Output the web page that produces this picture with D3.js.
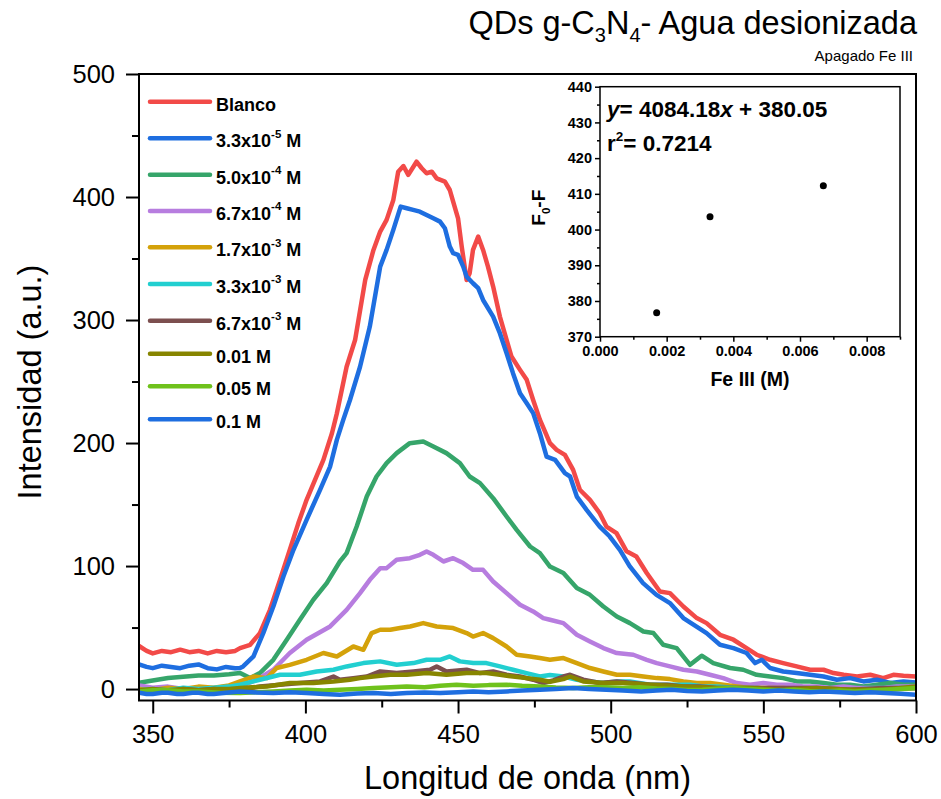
<!DOCTYPE html>
<html>
<head>
<meta charset="utf-8">
<script src="https://cdn.jsdelivr.net/npm/d3@7"></script>
<style>
  body { margin: 0; background: #fff; }
  svg { display: block; }
  text { font-family: "Liberation Sans", Arial, sans-serif; fill: #000; }
</style>
</head>
<body>
<svg id="chart" width="941" height="799"></svg>
<script>
// Emission spectra, [wavelength nm, intensity a.u.]
const blanco = [[345.5,35],[348,31],[350,29],[353,31],[356,30],[359,32],[362,30],[365,31],[368,29],[371,31],[374,30],[377,31],[378.6,33.3],[381.9,36],[385.1,45.5],[388.4,64.4],[391.7,88.8],[394.9,113.2],[397.7,134.9],[400.4,153.8],[405.9,186.3],[408.7,208],[410.3,224],[413.5,262],[416.3,284],[419.6,332.6],[422.3,357],[424.5,371.9],[426.6,381.4],[428.8,397.6],[430.4,420.6],[432.1,425.2],[433.7,418],[436.4,428.7],[438.1,423.4],[439.7,419.3],[441.4,420.6],[443,415.2],[445.7,412.5],[447.3,405.7],[448.4,396.2],[450,382.7],[451.2,359.7],[452.8,332.6],[453.8,338],[454.9,357],[456.6,367.8],[458.2,357],[459.8,343.4],[461.5,327.2],[463.7,302.8],[465.9,283.8],[467.5,270.3],[470.3,259.5],[472.5,251.4],[474.6,235],[476.8,219],[480.1,199.9],[482.3,194.5],[485,190.4],[487.7,178.2],[489.9,162],[493.2,153.8],[496.4,143],[498.6,132.1],[501.9,126.8],[505.2,112],[508.4,107.8],[511.8,94.3],[516.1,79.3],[519.4,78],[523.8,67.1],[528.2,57.7],[531.4,53.6],[535.8,44.1],[540.2,40.1],[544.5,33.3],[547.8,27.9],[552.2,23.8],[556.5,21.1],[560.9,18.4],[565.3,15.7],[569.7,15.7],[573,13],[576.3,11.6],[580.7,10.2],[585,11.6],[589.3,8.9],[592.6,11.6],[595.9,10.8],[600,10.2]];

const fe_3_3e5 = [[345.5,20],[348,18],[350,17],[353,19],[356,18],[359,17],[362,19],[365,20],[368,17],[371,16],[374,18],[377,17],[378.6,17.1],[379.6,18.4],[383,26.5],[386.2,45.5],[389.5,67.1],[392.8,91.5],[396.1,113.2],[400.4,137.6],[404.8,161.9],[408.1,180.9],[410.3,202.6],[412.4,218.8],[414.6,235],[417.9,262],[421.1,294.7],[424.5,343.4],[426.6,357],[428.8,373.3],[431.2,392.2],[433.2,390.9],[435.3,389.5],[437.5,388.1],[439.7,385.4],[441.9,382.7],[444.1,380],[445.7,374.6],[447.3,359.7],[448.4,354.3],[450,352.9],[451.7,343.4],[452.8,335.3],[454.9,329.9],[456.6,325.9],[458.2,316.3],[461.5,302.8],[463.7,289.3],[465.9,273],[468,256.8],[470.3,240.5],[472.5,232.4],[474.6,224.3],[476.8,208],[479,189],[481.8,186.3],[485,175.5],[486.7,172.8],[488.9,156.5],[492.1,145.7],[496.4,132.1],[499.7,124],[503,113.2],[506.2,100],[510.6,86.1],[515,76.6],[519.4,69.9],[523.8,57.7],[527.1,52.3],[531.4,45.5],[535.8,36],[540.2,33.3],[544.5,29.3],[547.3,21.1],[549.5,23.8],[552.2,17.1],[556.5,14.3],[560.9,13],[565.3,11.6],[569.7,10.2],[574.1,7.6],[578.4,8.9],[582.8,6.2],[587.2,7.6],[591.6,4.9],[595.9,6.2],[600,5.4]];

const fe_5_0e4 = [[345.5,5],[350,7],[355,9],[360,10],[365,11],[370,11],[375,12],[378.6,13],[381.9,8.9],[385.1,13],[389.5,23.8],[393.9,40.1],[398.2,56.3],[402.6,72.6],[407,86.1],[411.3,103.7],[413.5,110.5],[416.8,132.1],[420.1,156.5],[423.3,172.8],[426.6,183.7],[429.9,191.8],[434.2,199.9],[438.6,201.2],[441.9,197.1],[446.2,191.8],[450.6,183.7],[453.8,172.8],[457.2,167.4],[461.5,155.2],[465.9,140.3],[469.2,129.4],[473.6,115.9],[476.8,110.5],[480.1,99.6],[484.5,94.3],[488.9,82.1],[493.2,76.6],[497.6,67.1],[502,59],[506.3,53.6],[510.7,46.8],[514,45.5],[517.2,36],[521.6,33.3],[526,19.7],[529.8,27.1],[533.6,21.1],[539.1,17.1],[543.4,15.7],[547.8,11.6],[552.2,10.2],[556.5,8.9],[560.9,6.2],[565.3,6.2],[569.7,4.9],[574.1,3.5],[578.4,3.5],[582.8,2.1],[587.2,3.5],[591.6,4.9],[595.9,3.5],[600,3.5]];

const fe_6_7e4 = [[345.5,3],[350,1],[355,2],[360,0],[365,1],[370,0],[375,1],[378.6,2.1],[384.1,7.6],[389.5,15.7],[394.9,29.3],[400.4,40.1],[408.1,50.9],[413.5,64.4],[417.9,78],[421.1,88.8],[424.5,98.3],[426.6,98.3],[429.9,105.1],[434.2,106.4],[437.5,109.1],[439.7,111.8],[441.9,109.1],[445.2,103.7],[448.4,106.4],[451.7,102.4],[454.9,96.9],[458.2,96.9],[461.5,87.4],[465.9,78],[470.3,68.5],[474.6,63.1],[477.9,57.7],[480.1,56.3],[484.5,53.6],[488.9,44.1],[493.2,38.7],[497.6,33.3],[502,29.3],[507.4,27.9],[511.8,23.8],[515.1,21.1],[519.4,18.4],[523.8,15.7],[528.2,14.3],[532.5,11.6],[536.9,8.9],[541.3,4.9],[545.6,3.5],[550,4.9],[554.4,3.5],[558.7,3.5],[563.1,2.1],[567.5,2.1],[571.8,0.8],[576.2,2.1],[580.6,0.8],[585,0.8],[589.3,0.8],[593.7,2.1],[600,2.1]];

const fe_1_7e3 = [[345.5,0],[350,-1],[355,1],[360,0],[365,2],[370,1],[375,3],[378.6,6.2],[383,10.2],[387.4,8.9],[390.6,17.1],[394.9,19.7],[400.4,23.8],[405.9,29.3],[410.3,26.5],[415.7,34.6],[419,31.9],[421.7,45.5],[424.5,48.2],[427.8,48.2],[431,49.6],[434.3,50.9],[438.6,53.6],[443,50.9],[448.4,49.6],[452.8,45.5],[454.9,42.7],[458.2,45.5],[461.5,41.4],[465.9,34.6],[469.2,27.9],[473.6,26.5],[476.8,25.2],[480.1,23.8],[484.5,25.2],[488.9,21.1],[493.2,17.1],[497.6,14.3],[502,11.6],[506.3,11.6],[510.7,10.2],[515.1,8.9],[519.4,8.1],[523.8,6.2],[528.2,4.9],[532.5,4.9],[536.9,3.5],[541.3,2.1],[545.6,0.8],[550,0.8],[556.5,0.8],[563.1,-0.6],[569.7,-0.6],[576.2,-0.6],[582.8,-0.6],[589.3,-0.6],[600,0.8]];

const fe_3_3e3 = [[345.5,-1],[350,0],[355,-1],[360,1],[365,0],[370,1],[375,2],[378.6,3.5],[385.1,7.6],[391.7,11.6],[398.2,11.6],[403.7,14.3],[409.2,15.7],[413.5,18.4],[419,21.1],[424.5,22.5],[429.9,19.7],[435.4,21.1],[439.7,23.8],[444.1,23.8],[447.3,26.5],[450.6,22.5],[455,21.1],[459.3,21.1],[463.7,18.4],[468,15.7],[472.4,13],[476.8,10.2],[480.1,11.5],[484.5,10.2],[488.9,7.6],[493.2,6.2],[497.6,4.9],[502,6.2],[506.3,6.2],[512.9,3.5],[519.4,3.5],[526,3.5],[530.3,2.1],[534.7,2.1],[541.3,0.8],[547.8,0.8],[556.5,-0.6],[567.5,-0.6],[578.4,-0.6],[589.3,0.8],[600,0.8]];

const fe_6_7e3 = [[345.5,-2],[350,-1],[355,-2],[360,0],[365,-1],[370,0],[375,-1],[378.6,-0.6],[385.1,2.1],[391.7,3.5],[398.2,4.9],[404.8,6.2],[409.2,10.2],[411.3,7.6],[415.7,8.9],[420.1,10.2],[424.5,14.3],[429.9,13],[435.4,14.3],[440.8,15.7],[443,18.4],[446.2,14.3],[452.8,15.7],[457.2,13],[461.5,14.3],[465.9,11.6],[470.3,10.2],[474.6,7.6],[477.9,4.9],[481.2,7],[484.5,10.2],[486.7,11.6],[491,7.6],[496.5,4.9],[502,6.2],[507.4,4.9],[512.9,3.5],[518.4,3.5],[523.8,2.1],[529.3,2.1],[534.7,0.8],[545.6,0.8],[556.5,0.8],[567.5,0.8],[578.4,-0.6],[589.3,0.8],[600,0.8]];

const fe_0_01 = [[345.5,-1],[350,0],[355,-1],[360,0],[365,-1],[370,0],[375,0],[378.6,0.8],[387.4,2.1],[394.9,4.9],[402.6,4.9],[409.2,6.2],[414.6,7.6],[417.9,8.9],[422.3,10.2],[427.8,11.6],[433.2,11.6],[439.7,13],[446.2,11.6],[452.8,13],[459.3,13],[463.7,11.6],[468,10.2],[472.4,8.9],[476.8,7.6],[480.1,6],[484.5,8.1],[486.7,10.2],[491,6.2],[497.6,4.9],[504.1,4.9],[512.9,3.5],[523.8,2.1],[534.7,0.8],[545.6,0.8],[556.5,-0.6],[567.5,0.8],[578.4,-0.6],[589.3,-0.6],[600,2.1]];

const fe_0_05 = [[345.5,-2],[350,-1],[355,-1],[360,-2],[365,-2],[372,-3],[378.6,-3.3],[384,-2.5],[389.5,-1.9],[395,-1.2],[400.4,-0.6],[406,-1.2],[411.3,-0.6],[417,0],[422.3,0.8],[428,1.5],[433.2,2.1],[439,1.5],[444.1,2.6],[449.5,3.5],[455,2.6],[460,3.2],[465.9,3.5],[471,2.6],[476.8,2.1],[482,1.2],[487.7,0.8],[493,1.5],[498.6,1.5],[504,0.8],[509.5,1.5],[515,0.5],[520,0],[525,-0.8],[530,-0.6],[535,0.2],[540,0.8],[545,0],[550,-0.6],[555,-1.2],[560,-0.6],[565,-1.5],[570,-1.9],[575,-1.2],[580,-1.9],[585,-1.2],[590,-0.6],[595,0],[600,0.8]];

const fe_0_1 = [[345.5,-3],[348,-4],[350,-4],[353,-3],[355,-3],[358,-4],[360,-4],[363,-3],[365,-3],[368,-4],[370,-4],[374,-3],[378.6,-1.9],[384,-2.8],[389.5,-3.3],[395,-2.6],[400.4,-3.3],[406,-4],[411.3,-4.6],[417,-3.6],[422.3,-3.3],[428,-4],[433.2,-3.3],[439,-2.7],[444.1,-3.3],[450,-2.5],[455,-1.9],[460,-2.6],[465.9,-1.9],[471,-1.2],[476.8,-0.6],[482,0],[487.7,0.8],[493,0],[498.6,-0.6],[504,-1.2],[510,-1.9],[515,-1.2],[520,-0.6],[525,-1.5],[530,-1.9],[535,-1.2],[540,-0.6],[545,-1.2],[550,-1.9],[555,-1.2],[560,-1.9],[565,-2.6],[570,-1.9],[575,-2.6],[580,-3.3],[585,-2.6],[590,-3.3],[595,-3.8],[600,-4.6]];

const spectra = [blanco, fe_3_3e5, fe_5_0e4, fe_6_7e4, fe_1_7e3, fe_3_3e3, fe_6_7e3, fe_0_01, fe_0_05, fe_0_1];
const seriesColors = ["#f24a48", "#1e6ee0", "#36a56a", "#b77ddf", "#d4a20a", "#22cfd0", "#7c4f4f", "#878500", "#6fc21c", "#1e6ee0"];
const legendMain = ["Blanco", "3.3x10", "5.0x10", "6.7x10", "1.7x10", "3.3x10", "6.7x10", "0.01 M", "0.05 M", "0.1 M"];
const legendExp = ["", "-5", "-4", "-4", "-3", "-3", "-3", "", "", ""];
const legendRows = [101.7, 138.3, 174.7, 211, 247.3, 284, 320.7, 353.7, 386.3, 419.3];

const yMajorTicks = [0, 100, 200, 300, 400, 500];
const yMinorTicks = [50, 150, 250, 350, 450];
const xMajorTicks = [350, 400, 450, 500, 550, 600];
const xMinorTicks = [375, 425, 475, 525, 575];

// Inset: quenching vs Fe(III) concentration
const feConc = [0.0017, 0.0033, 0.0067];
const quench = [376.7, 403.6, 412.3];
const insetYTicks = [370, 380, 390, 400, 410, 420, 430, 440];
const insetYMinor = [375, 385, 395, 405, 415, 425, 435];
const insetXTicks = [0, 0.002, 0.004, 0.006, 0.008];
const insetXMinor = [0.001, 0.003, 0.005, 0.007, 0.009];

const svg = d3.select("#chart");
const FONT = '"Liberation Sans", Arial, sans-serif';

// ---------- main plot ----------
const plot = { left: 139, right: 916, top: 74, bottom: 700.5 };
const x = d3.scaleLinear().domain([345.5, 600]).range([plot.left, plot.right]);
const y = d3.scaleLinear().domain([-9.3, 500]).range([plot.bottom, plot.top]);

svg.append("defs").append("clipPath").attr("id", "plotClip")
  .append("rect").attr("x", plot.left).attr("y", plot.top)
  .attr("width", plot.right - plot.left).attr("height", plot.bottom - plot.top);

const line = d3.line().x(d => x(d[0])).y(d => y(d[1]));
svg.append("g").attr("clip-path", "url(#plotClip)")
  .selectAll("path").data(spectra).join("path")
  .attr("d", line)
  .attr("fill", "none")
  .attr("stroke", (d, i) => seriesColors[i])
  .attr("stroke-width", 4.5)
  .attr("stroke-linejoin", "round")
  .attr("stroke-linecap", "round");

function styleAxis(g, size, weight) {
  g.select(".domain").remove();
  g.selectAll(".tick line").attr("stroke", "#000").attr("stroke-width", 2);
  g.selectAll("text").attr("font-family", FONT).attr("font-size", size)
    .attr("font-weight", weight || "normal").attr("fill", "#000");
}

svg.append("g").attr("transform", `translate(${plot.left},0)`)
  .call(d3.axisLeft(y).tickValues(yMajorTicks).tickSize(13).tickPadding(11))
  .call(g => styleAxis(g, 25.5));
svg.append("g").attr("transform", `translate(${plot.left},0)`)
  .call(d3.axisLeft(y).tickValues(yMinorTicks).tickSize(7).tickFormat(""))
  .call(g => styleAxis(g, 25.5));
svg.append("g").attr("transform", `translate(0,${plot.bottom})`)
  .call(d3.axisBottom(x).tickValues(xMajorTicks).tickSize(13).tickPadding(11))
  .call(g => styleAxis(g, 25.5));
svg.append("g").attr("transform", `translate(0,${plot.bottom})`)
  .call(d3.axisBottom(x).tickValues(xMinorTicks).tickSize(7).tickFormat(""))
  .call(g => styleAxis(g, 25.5));

svg.append("rect")
  .attr("x", plot.left).attr("y", plot.top)
  .attr("width", plot.right - plot.left).attr("height", plot.bottom - plot.top)
  .attr("fill", "none").attr("stroke", "#000").attr("stroke-width", 2);

// axis titles
svg.append("text")
  .attr("transform", `translate(41,382) rotate(-90)`)
  .attr("text-anchor", "middle").attr("font-size", 32.5)
  .text("Intensidad (a.u.)");
svg.append("text")
  .attr("x", (plot.left + plot.right) / 2).attr("y", 789)
  .attr("text-anchor", "middle").attr("font-size", 32.5)
  .text("Longitud de onda (nm)");

// title
const title = svg.append("text").attr("x", 917).attr("y", 34)
  .attr("text-anchor", "end").attr("font-size", 32.5);
title.append("tspan").text("QDs g-C");
title.append("tspan").attr("font-size", 20).attr("dy", 8).text("3");
title.append("tspan").attr("dy", -8).text("N");
title.append("tspan").attr("font-size", 20).attr("dy", 8).text("4");
title.append("tspan").attr("dy", -8).text("- Agua desionizada");
svg.append("text").attr("x", 913).attr("y", 61)
  .attr("text-anchor", "end").attr("font-size", 15)
  .text("Apagado Fe III");

// legend
const legend = svg.append("g");
legendRows.forEach((ly, i) => {
  legend.append("line")
    .attr("x1", 150).attr("x2", 210).attr("y1", ly).attr("y2", ly)
    .attr("stroke", seriesColors[i]).attr("stroke-width", 4.5)
    .attr("stroke-linecap", "round");
  const t = legend.append("text").attr("x", 216).attr("y", ly + 8.8)
    .attr("font-size", 18).attr("font-weight", "bold");
  t.append("tspan").text(legendMain[i]);
  if (legendExp[i]) {
    t.append("tspan").attr("font-size", 11.5).attr("dy", -9.5).text(legendExp[i]);
    t.append("tspan").attr("dy", 9.5).text(" M");
  }
});

// ---------- inset ----------
const ins = { left: 600, right: 900, top: 86.7, bottom: 336.7 };
const xi = d3.scaleLinear().domain([0, 0.009]).range([ins.left, ins.right]);
const yi = d3.scaleLinear().domain([370, 440]).range([ins.bottom, ins.top]);

function styleInset(g) {
  g.select(".domain").remove();
  g.selectAll(".tick line").attr("stroke", "#000").attr("stroke-width", 1.5);
  g.selectAll("text").attr("font-family", FONT).attr("font-size", 14.5)
    .attr("font-weight", "bold").attr("fill", "#000");
}
svg.append("g").attr("transform", `translate(${ins.left},0)`)
  .call(d3.axisLeft(yi).tickValues(insetYTicks).tickSize(5).tickPadding(3))
  .call(styleInset);
svg.append("g").attr("transform", `translate(${ins.left},0)`)
  .call(d3.axisLeft(yi).tickValues(insetYMinor).tickSize(3).tickFormat(""))
  .call(styleInset);
svg.append("g").attr("transform", `translate(0,${ins.bottom})`)
  .call(d3.axisBottom(xi).tickValues(insetXTicks).tickSize(5).tickPadding(4)
    .tickFormat(d3.format(".3f")))
  .call(styleInset);
svg.append("g").attr("transform", `translate(0,${ins.bottom})`)
  .call(d3.axisBottom(xi).tickValues(insetXMinor).tickSize(3).tickFormat(""))
  .call(styleInset);

svg.append("rect")
  .attr("x", ins.left).attr("y", ins.top)
  .attr("width", ins.right - ins.left).attr("height", ins.bottom - ins.top)
  .attr("fill", "none").attr("stroke", "#000").attr("stroke-width", 1.5);

svg.append("g").selectAll("circle").data(feConc).join("circle")
  .attr("cx", d => xi(d)).attr("cy", (d, i) => yi(quench[i]))
  .attr("r", 3.5).attr("fill", "#000");

const fit = svg.append("text").attr("x", 607).attr("y", 117)
  .attr("font-size", 22.5).attr("font-weight", "bold");
fit.append("tspan").attr("font-style", "italic").text("y");
fit.append("tspan").text("= 4084.18");
fit.append("tspan").attr("font-style", "italic").text("x");
fit.append("tspan").text(" + 380.05");
const r2 = svg.append("text").attr("x", 607).attr("y", 151)
  .attr("font-size", 22.5).attr("font-weight", "bold");
r2.append("tspan").text("r");
r2.append("tspan").attr("font-size", 13.5).attr("dy", -10).text("2");
r2.append("tspan").attr("dy", 10).text("= 0.7214");

svg.append("text").attr("x", (ins.left + ins.right) / 2).attr("y", 386)
  .attr("text-anchor", "middle").attr("font-size", 19.5).attr("font-weight", "bold")
  .text("Fe III (M)");
const fl = svg.append("text")
  .attr("transform", `translate(545,${(ins.top + ins.bottom) / 2 - 4}) rotate(-90)`)
  .attr("text-anchor", "middle").attr("font-size", 19).attr("font-weight", "bold");
fl.append("tspan").text("F");
fl.append("tspan").attr("font-size", 11.5).attr("dy", 5).text("0");
fl.append("tspan").attr("dy", -5).text("-F");
</script>
</body>
</html>
